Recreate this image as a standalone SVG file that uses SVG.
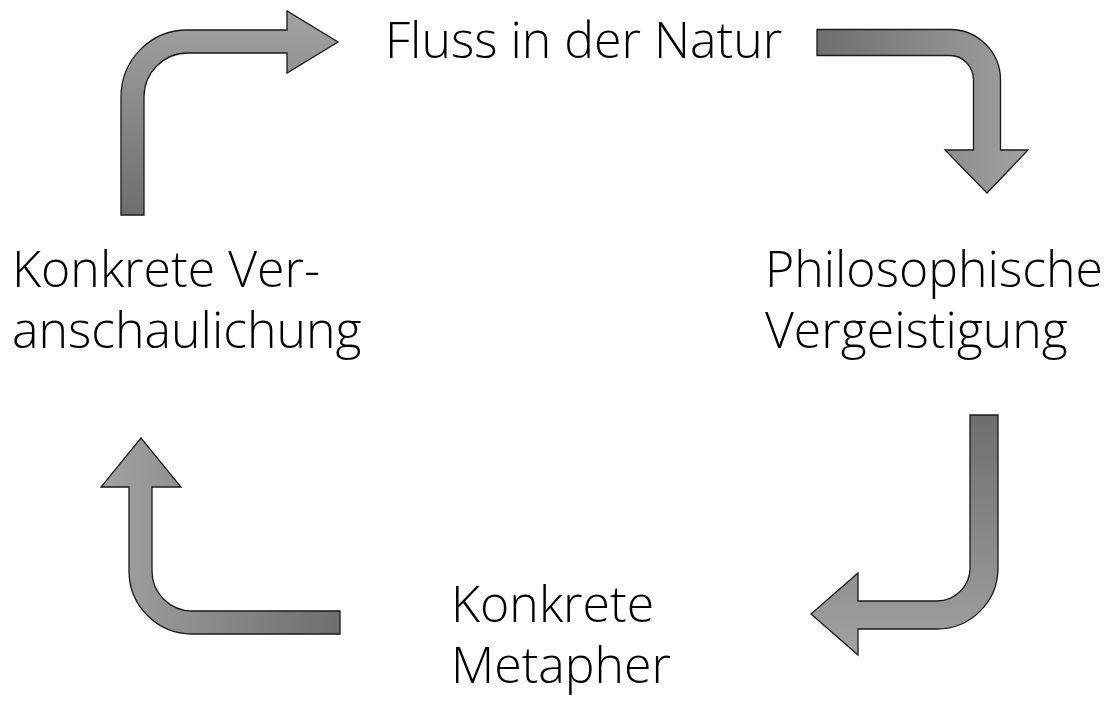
<svg xmlns="http://www.w3.org/2000/svg" width="1110" height="704" viewBox="0 0 1110 704">
<style>
.lbl{font-family:"Open Sans","Noto Sans","Liberation Sans",sans-serif;font-weight:300;font-size:50px;fill:#000}
.arr{stroke:#1a1a1a;stroke-width:1.3;stroke-linejoin:miter}
</style>
<defs>
<linearGradient id="gUp" x1="0" y1="1" x2="0" y2="0"><stop offset="0" stop-color="#6e6e6e"/><stop offset="1" stop-color="#a2a2a2"/></linearGradient>
<linearGradient id="gRight" x1="0" y1="0" x2="1" y2="0"><stop offset="0" stop-color="#6e6e6e"/><stop offset="1" stop-color="#a2a2a2"/></linearGradient>
<linearGradient id="gDown" x1="0" y1="0" x2="0" y2="1"><stop offset="0" stop-color="#6e6e6e"/><stop offset="1" stop-color="#a2a2a2"/></linearGradient>
<linearGradient id="gLeft" x1="1" y1="0" x2="0" y2="0"><stop offset="0" stop-color="#6e6e6e"/><stop offset="1" stop-color="#a2a2a2"/></linearGradient>
</defs>
<rect width="1110" height="704" fill="#fff"/>
<g id="connectors">
<path id="arrow-top-left" class="arr" fill="url(#gUp)" d="M121,215 L121,97 A66,67 0 0 1 187,30 L287,30 L287,11 L338,42 L287,73 L287,53 L188,53 A44,44 0 0 0 144,97 L144,215 Z"/>
<path id="arrow-top-right" class="arr" fill="url(#gRight)" d="M817,29.5 L950,29.5 A50.5,50.5 0 0 1 1000.5,80 L1000.5,150 L1028,150 L987,193 L945,150 L973.5,150 L973.5,80 A23.5,24.5 0 0 0 950,55.5 L817,55.5 Z"/>
<path id="arrow-bottom-right" class="arr" fill="url(#gDown)" d="M970,415 L998,415 L998,568 A61,61 0 0 1 937,629 L858,629 L858,655 L811,614 L858,573 L858,601 L937,601 A33,33 0 0 0 970,568 Z"/>
<path id="arrow-bottom-left" class="arr" fill="url(#gLeft)" d="M340,611 L340,634 L192,634 A63,63 0 0 1 129,571 L129,487 L101,487 L141,438 L181,487 L152,487 L152,571 A40,40 0 0 0 192,611 Z"/>
</g>
<g id="node-fluss"><text class="lbl" x="385" y="58">Fluss in der Natur</text></g>
<g id="node-philosophische"><text class="lbl" x="765" y="287">Philosophische</text><text class="lbl" x="765" y="348">Vergeistigung</text></g>
<g id="node-metapher"><text class="lbl" x="451" y="622">Konkrete</text><text class="lbl" x="451" y="683">Metapher</text></g>
<g id="node-veranschaulichung"><text class="lbl" x="12" y="287">Konkrete Ver-</text><text class="lbl" x="12" y="348">anschaulichung</text></g>
</svg>
